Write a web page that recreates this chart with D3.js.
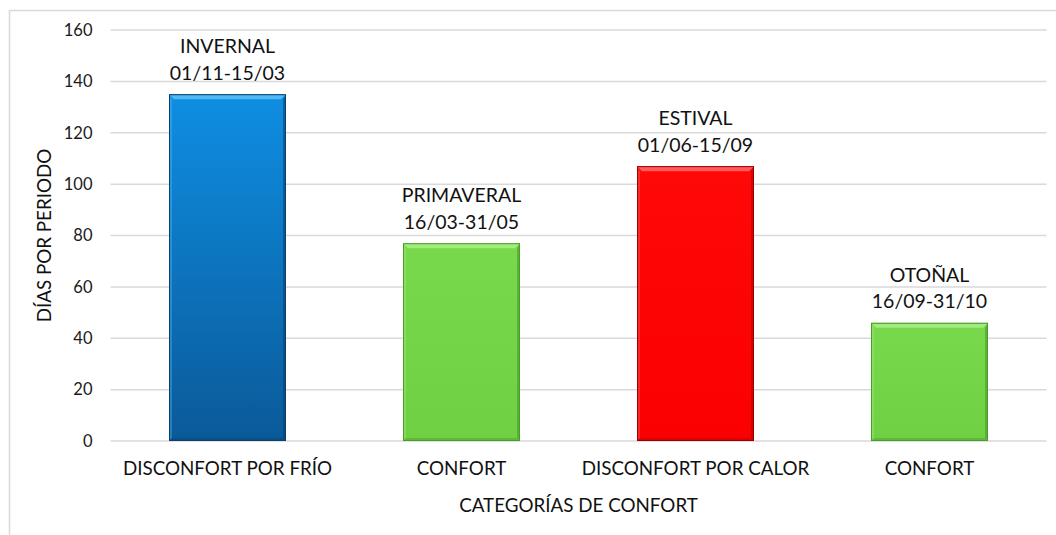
<!DOCTYPE html>
<html>
<head>
<meta charset="utf-8">
<script src="https://cdn.jsdelivr.net/npm/d3@7"></script>
<style>
  html, body { margin: 0; padding: 0; background: #fff; }
  svg { display: block; font-family: Lato, "Open Sans", sans-serif; }
</style>
</head>
<body>
<svg id="chart" width="1056" height="535"></svg>
<script>
// Comfort categories and the number of days in each period
const categories = ["DISCONFORT POR FRÍO", "CONFORT", "DISCONFORT POR CALOR", "CONFORT "];
const days = [135, 77, 107, 46];
const periodNames = ["INVERNAL", "PRIMAVERAL", "ESTIVAL", "OTOÑAL"];
const periodDates = ["01/11-15/03", "16/03-31/05", "01/06-15/09", "16/09-31/10"];
const yTicks = [0, 20, 40, 60, 80, 100, 120, 140, 160];
const barKinds = ["cold", "comfort", "hot", "comfort"];

const palette = {
  cold:    { top: "#0f8ee2", bottom: "#0a5a99", light: "#5cc0f5", dark: "#083e6c", edge: "#0a3f70" },
  comfort: { top: "#78d94c", bottom: "#70d044", light: "#a8ee86", dark: "#3f9a22", edge: "#4a9a2c" },
  hot:     { top: "#ff0808", bottom: "#fb0000", light: "#ff6a6a", dark: "#b30000", edge: "#9a0000" }
};

const svg = d3.select("#chart");
const W = 1056, H = 535;
const margin = { left: 110.5, right: 9.5, top: 30, bottom: 94 };
const font = "Lato, 'Open Sans', sans-serif";

// Chart frame
svg.append("rect")
  .attr("x", 9.5).attr("y", 10.5)
  .attr("width", W + 10).attr("height", H + 10)
  .attr("fill", "none").attr("stroke", "#d9d9d9").attr("stroke-width", 1.5);

const x = d3.scaleBand()
  .domain(categories)
  .range([margin.left, W - margin.right])
  .paddingInner(0.5)
  .paddingOuter(0.25);

const y = d3.scaleLinear()
  .domain([0, 160])
  .range([H - margin.bottom, margin.top]);

// Gradients for each bar kind
const defs = svg.append("defs");
Object.entries(palette).forEach(([k, c]) => {
  const g = defs.append("linearGradient")
    .attr("id", "grad-" + k)
    .attr("x1", 0).attr("y1", 0).attr("x2", 0).attr("y2", 1);
  g.append("stop").attr("offset", "0%").attr("stop-color", c.top);
  g.append("stop").attr("offset", "100%").attr("stop-color", c.bottom);
});

// Gridlines
svg.append("g")
  .selectAll("line")
  .data(yTicks)
  .join("line")
  .attr("x1", margin.left).attr("x2", W - margin.right)
  .attr("y1", d => y(d)).attr("y2", d => y(d))
  .attr("stroke", "#d9d9d9").attr("stroke-width", 1.5);

// Y axis tick labels
const yAxis = d3.axisLeft(y).tickValues(yTicks).tickSize(0).tickPadding(18);
svg.append("g")
  .attr("transform", `translate(${margin.left},0)`)
  .call(yAxis)
  .call(g => g.select(".domain").remove())
  .call(g => g.selectAll("text")
    .attr("font-family", font)
    .attr("font-size", 16.5).attr("fill", "#1a1a1a"));

// X axis category labels
const xAxis = d3.axisBottom(x).tickSize(0).tickPadding(21);
svg.append("g")
  .attr("transform", `translate(0,${y(0)})`)
  .call(xAxis)
  .call(g => g.select(".domain").remove())
  .call(g => g.selectAll("text")
    .text(d => d.trim())
    .attr("font-family", font)
    .attr("font-size", 18.8).attr("fill", "#111"));

// Bars with a bevelled edge
const bev = 5;
const bars = svg.append("g").selectAll("g.bar")
  .data(categories.map((c, i) => ({ c, v: days[i], k: barKinds[i], i })))
  .join("g").attr("class", "bar");

bars.each(function(d) {
  const g = d3.select(this);
  const c = palette[d.k];
  const x0 = x(d.c), x1 = x0 + x.bandwidth();
  const y0 = y(d.v), y1 = y(0);
  g.append("rect")
    .attr("x", x0).attr("y", y0)
    .attr("width", x1 - x0).attr("height", y1 - y0)
    .attr("fill", `url(#grad-${d.k})`);
  // top highlight
  g.append("polygon")
    .attr("points", [[x0, y0], [x1, y0], [x1 - bev, y0 + bev], [x0 + bev, y0 + bev]].join(" "))
    .attr("fill", c.light).attr("opacity", 0.85);
  // left edge
  g.append("polygon")
    .attr("points", [[x0, y0], [x0 + bev * 0.6, y0 + bev], [x0 + bev * 0.6, y1 - bev * 0.6], [x0, y1]].join(" "))
    .attr("fill", c.light).attr("opacity", 0.35);
  // right edge
  g.append("polygon")
    .attr("points", [[x1, y0], [x1 - bev * 0.6, y0 + bev], [x1 - bev * 0.6, y1 - bev * 0.6], [x1, y1]].join(" "))
    .attr("fill", c.dark).attr("opacity", 0.55);
  // bottom edge
  g.append("polygon")
    .attr("points", [[x0, y1], [x0 + bev * 0.6, y1 - bev * 0.6], [x1 - bev * 0.6, y1 - bev * 0.6], [x1, y1]].join(" "))
    .attr("fill", c.dark).attr("opacity", 0.4);
  g.append("rect")
    .attr("x", x0 + 0.5).attr("y", y0 + 0.5)
    .attr("width", x1 - x0 - 1).attr("height", y1 - y0 - 1)
    .attr("fill", "none").attr("stroke", c.edge).attr("stroke-width", 1);
});

// Period labels above each bar
const labels = svg.append("g")
  .selectAll("text")
  .data(categories.map((c, i) => ({ c, v: days[i], name: periodNames[i], dates: periodDates[i] })))
  .join("text")
  .attr("text-anchor", "middle")
  .attr("font-family", font)
  .attr("font-size", 19.5).attr("fill", "#111")
  .attr("x", d => x(d.c) + x.bandwidth() / 2)
  .attr("y", d => y(d.v) - 41);
labels.append("tspan").text(d => d.name);
labels.append("tspan")
  .attr("x", d => x(d.c) + x.bandwidth() / 2)
  .attr("dy", 26.5)
  .text(d => d.dates);

// Axis titles
svg.append("text")
  .attr("x", (margin.left + W - margin.right) / 2).attr("y", 512)
  .attr("text-anchor", "middle")
  .attr("font-family", font)
  .attr("font-size", 18.8).attr("fill", "#111")
  .text("CATEGORÍAS DE CONFORT");

svg.append("text")
  .attr("transform", `translate(51,${(y(0) + y(160)) / 2}) rotate(-90)`)
  .attr("text-anchor", "middle")
  .attr("font-family", font)
  .attr("font-size", 18.8).attr("fill", "#111")
  .text("DÍAS POR PERIODO");
</script>
</body>
</html>
